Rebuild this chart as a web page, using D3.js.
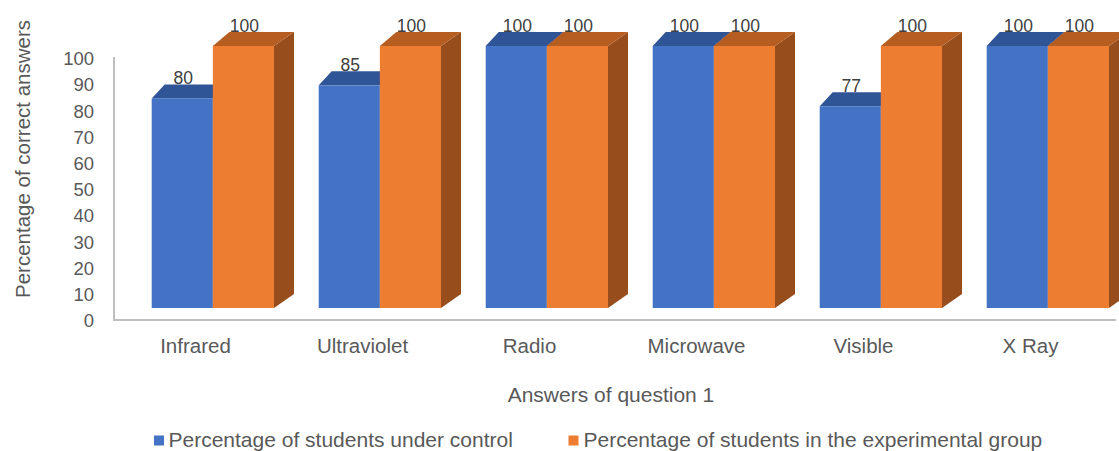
<!DOCTYPE html>
<html>
<head>
<meta charset="utf-8">
<script src="https://cdn.jsdelivr.net/npm/d3@7/dist/d3.min.js"></script>
<style>
  html, body { margin: 0; padding: 0; background: #fff; }
  svg { display: block; font-family: "Liberation Sans", Arial, sans-serif; }
</style>
</head>
<body>
<svg id="chart" width="1119" height="451"></svg>
<script>
// Answers of question 1 — correct answers per wavelength band
const categories = ["Infrared", "Ultraviolet", "Radio", "Microwave", "Visible", "X Ray"];
const seriesNames = ["Percentage of students under control", "Percentage of students in the experimental group"];
const controlValues = [80, 85, 100, 100, 77, 100];
const experimentalValues = [100, 100, 100, 100, 100, 100];
const yTicks = [0, 10, 20, 30, 40, 50, 60, 70, 80, 90, 100];

const seriesValues = [controlValues, experimentalValues];
const frontColors = ["#4472C4", "#ED7D31"];
const topColors = ["#2F5597", "#B65D22"];
const sideColors = ["#2A4C85", "#984D1C"];

const svg = d3.select("#chart");
const W = 1119, H = 451;

// floor / axis plane
const axisLeft = 114, axisRight = 1116, axisBottom = 320, axisTop = 58;
// front plane of the columns (set back from the axis plane)
const barBottom = 308, barTop100 = 46;
const depthDy = -14, depthDxLeft = 13, depthDxRight = 20;

const x = d3.scaleBand().domain(categories).range([axisLeft, axisRight]).paddingInner(0).paddingOuter(0);
const yAxisScale = d3.scaleLinear().domain([0, 100]).range([axisBottom, axisTop]);
const yBar = d3.scaleLinear().domain([0, 100]).range([barBottom, barTop100]);

const groupInset = 37.7;          // offset of first column from band start
const groupWidth = 122.3;         // width of the column pair
const xInner = d3.scaleBand().domain(d3.range(seriesNames.length)).range([0, groupWidth]);

// axis lines
svg.append("line")
  .attr("x1", axisLeft).attr("x2", axisLeft)
  .attr("y1", axisTop - 1).attr("y2", axisBottom)
  .attr("stroke", "#BFBFBF").attr("stroke-width", 2);
svg.append("line")
  .attr("x1", axisLeft - 1).attr("x2", axisRight)
  .attr("y1", axisBottom).attr("y2", axisBottom)
  .attr("stroke", "#BFBFBF").attr("stroke-width", 2);

// value axis labels
const yAxis = d3.axisLeft(yAxisScale).tickValues(yTicks).tickSize(0).tickPadding(0);
const yG = svg.append("g").attr("transform", "translate(94,0)").call(yAxis);
yG.select(".domain").remove();
yG.selectAll("text")
  .attr("font-size", 18.5).attr("fill", "#595959")
  .attr("font-family", "'Liberation Sans', Arial, sans-serif")
  .attr("dy", "0.36em");

// category labels
const xAxis = d3.axisBottom(x).tickSize(0).tickPadding(0);
const xG = svg.append("g").attr("transform", `translate(-2,${axisBottom})`).call(xAxis);
xG.select(".domain").remove();
xG.selectAll("text")
  .attr("font-size", 20.5).attr("fill", "#595959")
  .attr("font-family", "'Liberation Sans', Arial, sans-serif")
  .attr("y", 33).attr("dy", 0);

// columns with a simple oblique depth: back face slightly wider across the pair
function backX(px, groupLeft) {
  return px + depthDxLeft + (px - groupLeft) * (depthDxRight - depthDxLeft) / groupWidth;
}

const bars = svg.append("g");
categories.forEach((cat, ci) => {
  const gLeft = x(cat) + groupInset;
  seriesValues.forEach((vals, si) => {
    const v = vals[ci];
    const x0 = gLeft + xInner(si);
    const x1 = x0 + xInner.bandwidth();
    const yt = yBar(v), yb = yBar(0);
    const bx0 = backX(x0, gLeft), bx1 = backX(x1, gLeft);
    const g = bars.append("g");
    // right side face
    g.append("polygon")
      .attr("points", [[x1, yt], [bx1, yt + depthDy], [bx1, yb + depthDy], [x1, yb]].map(p => p.join(",")).join(" "))
      .attr("fill", sideColors[si]);
    // top face
    g.append("polygon")
      .attr("points", [[x0, yt], [bx0, yt + depthDy], [bx1, yt + depthDy], [x1, yt]].map(p => p.join(",")).join(" "))
      .attr("fill", topColors[si]);
    // front face
    g.append("rect")
      .attr("x", x0).attr("y", yt)
      .attr("width", x1 - x0).attr("height", yb - yt)
      .attr("fill", frontColors[si]);
  });
});

// data labels
categories.forEach((cat, ci) => {
  const gLeft = x(cat) + groupInset;
  seriesValues.forEach((vals, si) => {
    const v = vals[ci];
    svg.append("text")
      .attr("x", gLeft + xInner(si) + xInner.bandwidth() / 2 + 1)
      .attr("y", yBar(v) - 14.5)
      .attr("text-anchor", "middle")
      .attr("font-size", 17.5).attr("fill", "#404040")
      .text(v);
  });
});

// axis titles
svg.append("text")
  .attr("transform", "translate(30,159) rotate(-90)")
  .attr("text-anchor", "middle")
  .attr("font-size", 20.5).attr("fill", "#595959")
  .text("Percentage of correct answers");

svg.append("text")
  .attr("x", 611).attr("y", 401.5)
  .attr("text-anchor", "middle")
  .attr("font-size", 21).attr("fill", "#595959")
  .text("Answers of question 1");

// legend
const legendItems = [
  { name: seriesNames[0], color: frontColors[0], sx: 154, tx: 168.5 },
  { name: seriesNames[1], color: frontColors[1], sx: 568.5, tx: 583.5 }
];
const lg = svg.append("g");
legendItems.forEach(d => {
  lg.append("rect")
    .attr("x", d.sx).attr("y", 435.5)
    .attr("width", 10).attr("height", 10)
    .attr("fill", d.color);
  lg.append("text")
    .attr("x", d.tx).attr("y", 446.5)
    .attr("font-size", 21).attr("fill", "#595959")
    .text(d.name);
});
</script>
</body>
</html>
